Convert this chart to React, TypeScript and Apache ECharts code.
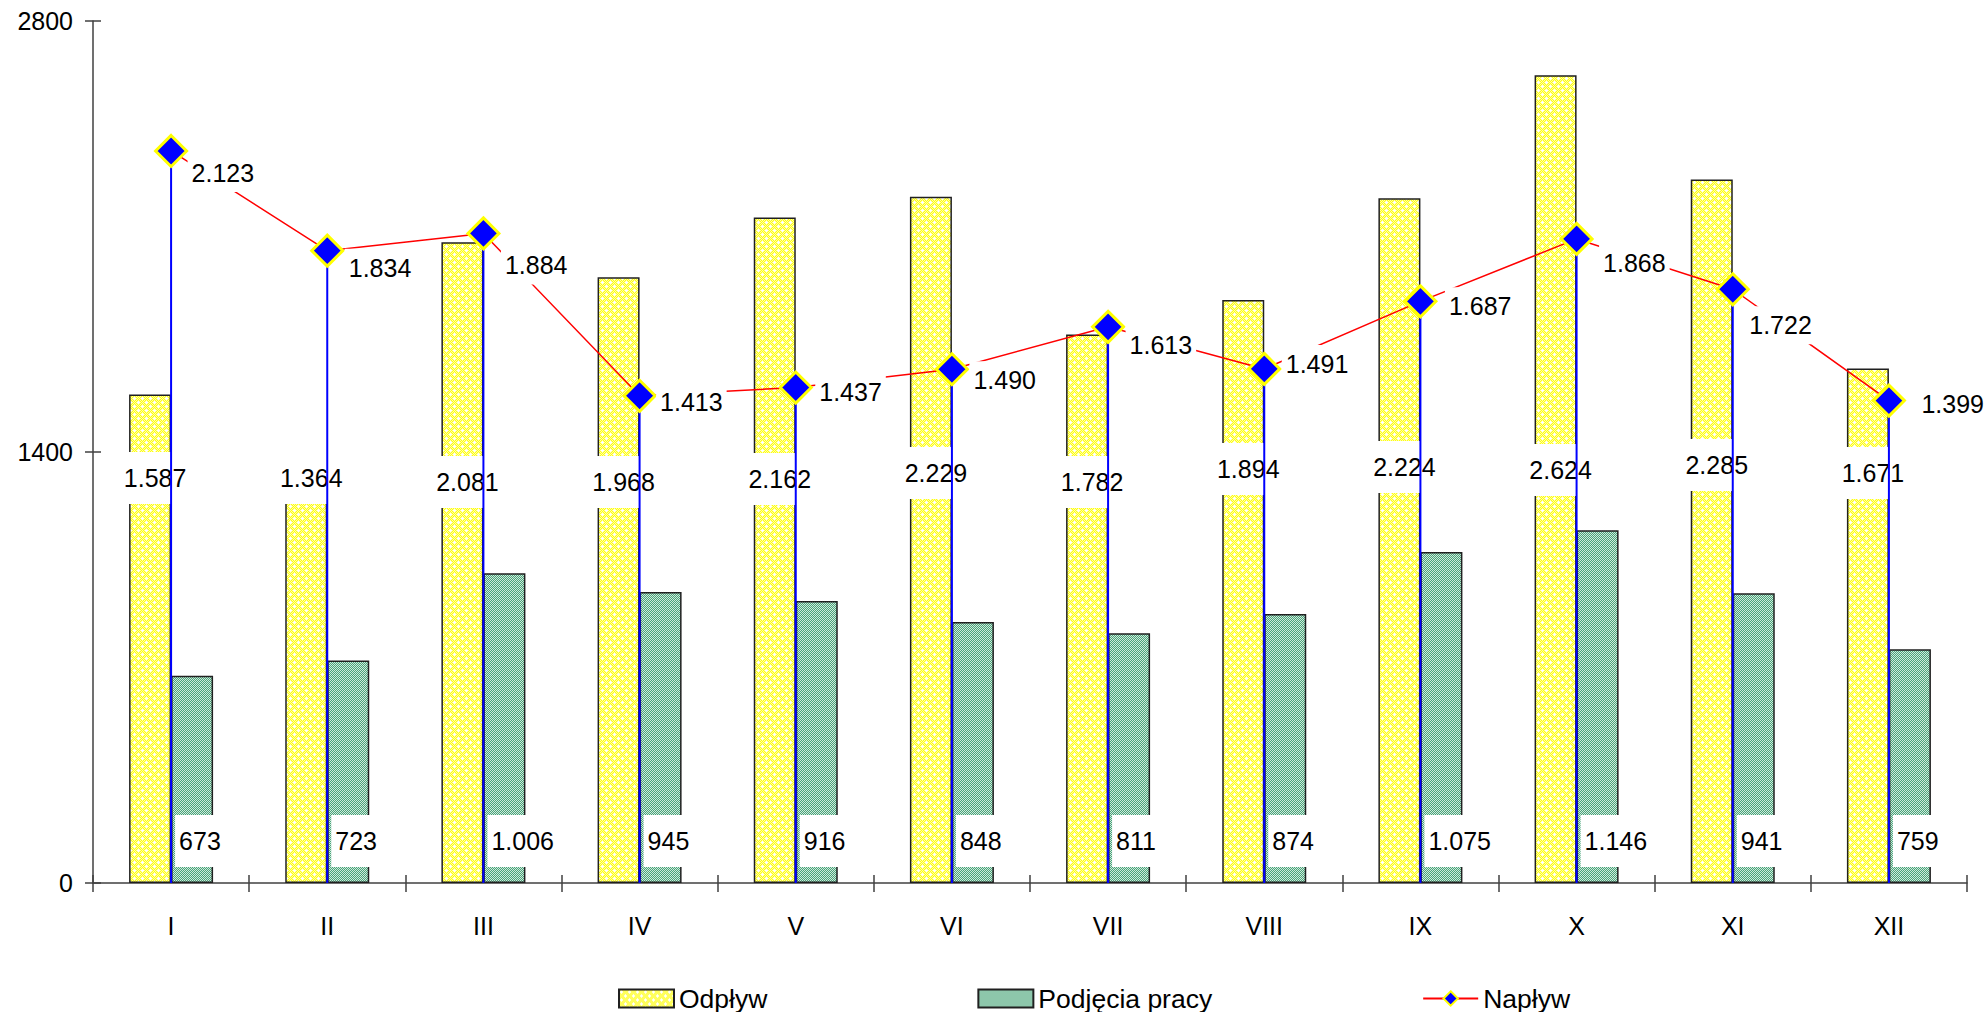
import React, { useEffect, useRef } from "react";
import * as echarts from "echarts";

const categories = ["I", "II", "III", "IV", "V", "VI", "VII", "VIII", "IX", "X", "XI", "XII"];
const odplyw = [1587, 1364, 2081, 1968, 2162, 2229, 1782, 1894, 2224, 2624, 2285, 1671];
const podjecia = [673, 723, 1006, 945, 916, 848, 811, 874, 1075, 1146, 941, 759];
const naplyw = [2123, 1834, 1884, 1413, 1437, 1490, 1613, 1491, 1687, 1868, 1722, 1399];
const leftAxisMax = 2800;
const leftAxisInterval = 1400;
const rightAxisMax = 2500;

// label placement (style only): manual label nudges seen in the original
const odplywLabelCenterY = [478, 478, 482, 482, 479, 473, 482, 469, 467, 470, 465, 473];
const naplywLabelDx = [19, 20, 20, 19, 22, 20, 20, 20, 27, 25, 15, 31];
const naplywLabelDy = [22, 17, 32, 6, 4, 11, 18, -5, 5, 24, 36, 3];

const FONT = "'Liberation Sans', Arial, sans-serif";

function fmt(v: number): string {
  if (v >= 1000) {
    const t = Math.floor(v / 1000);
    const r = String(v % 1000).padStart(3, "0");
    return t + "." + r;
  }
  return String(v);
}

function makePattern(kind: "yellow" | "green") {
  const c = document.createElement("canvas");
  c.width = 8;
  c.height = 8;
  const ctx = c.getContext("2d")!;
  if (kind === "yellow") {
    ctx.fillStyle = "#ffff10";
    ctx.fillRect(0, 0, 8, 8);
    ctx.fillStyle = "#ffffa8";
    for (let y = 0; y < 8; y++)
      for (let x = 0; x < 8; x++) if ((x + y) % 2 === 0) ctx.fillRect(x, y, 1, 1);
    ctx.fillStyle = "#ffffff";
    const crosses = [
      [2, 2],
      [6, 6],
    ];
    for (const [cx, cy] of crosses) {
      ctx.fillRect(cx, cy, 1, 1);
      ctx.fillRect(cx - 1, cy, 1, 1);
      ctx.fillRect(cx + 1, cy, 1, 1);
      ctx.fillRect(cx, cy - 1, 1, 1);
      ctx.fillRect(cx, cy + 1, 1, 1);
    }
  } else {
    ctx.fillStyle = "#4aa37a";
    ctx.fillRect(0, 0, 8, 8);
    ctx.fillStyle = "#cfeadc";
    for (let y = 0; y < 8; y++)
      for (let x = 0; x < 8; x++) if ((x + y) % 2 === 0) ctx.fillRect(x, y, 1, 1);
  }
  return { image: c, repeat: "repeat", imageWidth: 8, imageHeight: 8 } as any;
}

export default function App() {
  const ref = useRef<HTMLDivElement>(null);

  useEffect(() => {
    if (!ref.current) return;
    const chart = echarts.init(ref.current, null, { renderer: "svg" });
    const yellow = makePattern("yellow");
    const green = makePattern("green");

    const gridRect = { left: 93, right: 21, top: 21, bottom: 129 };
    const labelFont = { fontFamily: FONT, fontSize: 25, color: "#000" };

    const option: any = {
      animation: false,
      backgroundColor: "#ffffff",
      textStyle: { fontFamily: FONT },
      grid: [
        { ...gridRect, containLabel: false },
        { ...gridRect, containLabel: false },
      ],
      legend: {
        data: [
          { name: "Odpływ", icon: "rect" },
          { name: "Podjęcia pracy", icon: "rect" },
          { name: "Napływ" },
        ],
        left: 613,
        top: 980,
        itemWidth: 55,
        itemHeight: 18,
        itemGap: 210,
        textStyle: { fontFamily: FONT, fontSize: 26.5, color: "#000" },
      },
      xAxis: [
        {
          type: "category",
          gridIndex: 0,
          data: categories,
          boundaryGap: true,
          axisLine: { show: true, lineStyle: { color: "#404040", width: 1.5 } },
          axisTick: { show: true, inside: false, length: 9, lineStyle: { color: "#404040", width: 1.5 } },
          axisLabel: { ...labelFont, margin: 30 },
          splitLine: { show: false },
        },
        {
          type: "category",
          gridIndex: 1,
          data: categories,
          boundaryGap: true,
          axisLine: { show: false },
          axisTick: { show: true, inside: true, length: 8, lineStyle: { color: "#404040", width: 1.5 } },
          axisLabel: { show: false },
          splitLine: { show: false },
        },
      ],
      yAxis: [
        {
          type: "value",
          gridIndex: 0,
          min: 0,
          max: leftAxisMax,
          interval: leftAxisInterval,
          axisLine: { show: true, lineStyle: { color: "#404040", width: 1.5 } },
          axisTick: { show: true, inside: false, length: 8, lineStyle: { color: "#404040", width: 1.5 } },
          axisLabel: { ...labelFont, margin: 20, formatter: (v: number) => String(v) },
          splitLine: { show: false },
        },
        {
          type: "value",
          gridIndex: 0,
          min: 0,
          max: rightAxisMax,
          show: false,
          splitLine: { show: false },
        },
        {
          type: "value",
          gridIndex: 1,
          min: 0,
          max: leftAxisMax,
          interval: leftAxisInterval,
          axisLine: { show: false },
          axisTick: { show: true, inside: true, length: 8, lineStyle: { color: "#404040", width: 1.5 } },
          axisLabel: { show: false },
          splitLine: { show: false },
        },
      ],
      series: [
        {
          name: "Odpływ",
          type: "bar",
          xAxisIndex: 0,
          yAxisIndex: 0,
          data: odplyw.map((v, i) => ({
            value: v,
            label: { offset: [5, -381 + (odplywLabelCenterY[i] - 476)] },
          })),
          barWidth: 42,
          barGap: "0%",
          z: 2,
          itemStyle: { color: yellow, borderColor: "#202020", borderWidth: 1.5 },
          label: {
            show: true,
            position: "insideBottom",
            distance: 0,
            ...labelFont,
            lineHeight: 26,
            backgroundColor: "#ffffff",
            padding: [13, 9],
            formatter: (p: any) => fmt(p.value),
          },
        },
        {
          name: "Podjęcia pracy",
          type: "bar",
          xAxisIndex: 0,
          yAxisIndex: 0,
          data: podjecia,
          barWidth: 42,
          barGap: "0%",
          z: 2,
          itemStyle: { color: green, borderColor: "#202020", borderWidth: 1.5 },
          label: {
            show: true,
            position: "insideBottomLeft",
            distance: 0,
            offset: [4, -16],
            ...labelFont,
            lineHeight: 26,
            backgroundColor: "#ffffff",
            padding: [13, 4],
            formatter: (p: any) => fmt(p.value),
          },
        },
        {
          name: "dropLines",
          type: "custom",
          xAxisIndex: 0,
          yAxisIndex: 1,
          z: 3,
          silent: true,
          data: naplyw.map((v, i) => [i, v]),
          encode: { x: 0, y: 1 },
          renderItem: (params: any, api: any) => {
            const top = api.coord([api.value(0), api.value(1)]);
            const bottom = api.coord([api.value(0), 0]);
            return {
              type: "line",
              shape: { x1: top[0], y1: top[1], x2: bottom[0], y2: bottom[1] },
              style: { stroke: "#0000ff", lineWidth: 2 },
            };
          },
        },
        {
          name: "Napływ",
          type: "line",
          xAxisIndex: 0,
          yAxisIndex: 1,
          data: naplyw.map((v, i) => ({
            value: v,
            label: { offset: [naplywLabelDx[i] - 21.5, naplywLabelDy[i]] },
          })),
          z: 4,
          symbol: "diamond",
          symbolSize: 31,
          lineStyle: { color: "#ff0000", width: 1.5 },
          itemStyle: { color: "#0000ff", borderColor: "#ffff00", borderWidth: 3 },
          label: {
            show: true,
            position: "right",
            distance: 2,
            ...labelFont,
            lineHeight: 26,
            backgroundColor: "#ffffff",
            padding: [6, 4],
            formatter: (p: any) => fmt(p.value),
          },
        },
      ],
    };

    chart.setOption(option);
    return () => {
      chart.dispose();
    };
  }, []);

  return (
    <div
      ref={ref}
      style={{ position: "absolute", left: 0, top: 0, width: 1988, height: 1012, background: "#fff" }}
    />
  );
}
